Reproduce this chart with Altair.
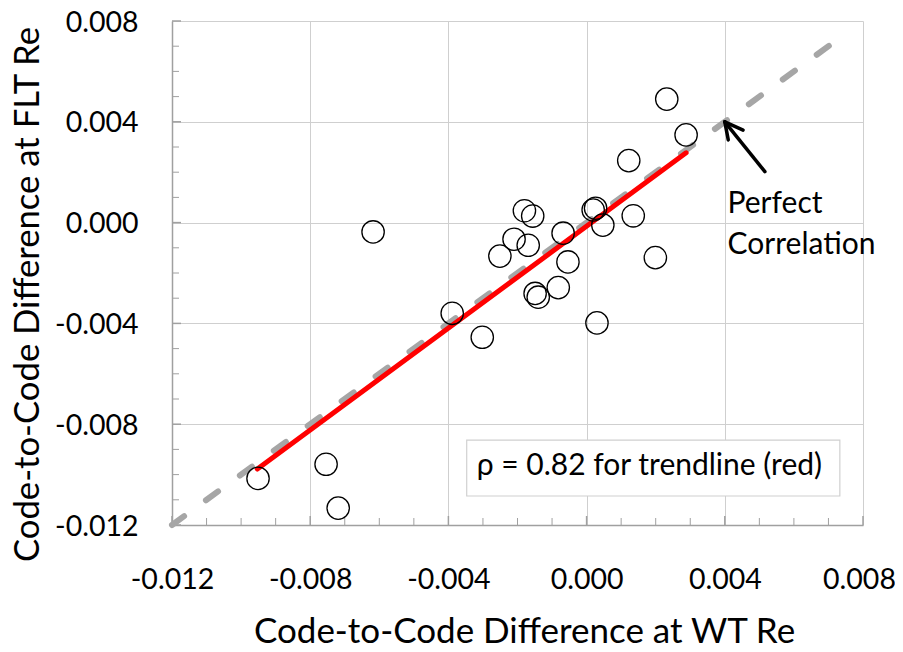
import altair as alt
import pandas as pd

# ---- data ----
wt_re = [-0.00951, -0.00754, -0.00719, -0.00618, -0.00389, -0.00302, -0.00251,
         -0.00210, -0.00180, -0.00156, -0.00169, -0.00149, -0.00140, -0.00082,
         -0.00068, -0.00054, 0.00019, 0.00026, 0.00047, 0.00030, 0.00122,
         0.00135, 0.00199, 0.00232, 0.00288]
flt_re = [-0.01015, -0.00959, -0.01133, -0.00037, -0.00360, -0.00455, -0.00133,
          -0.00066, 0.00047, 0.00026, -0.00090, -0.00281, -0.00296, -0.00258,
          -0.00042, -0.00156, 0.00050, 0.00057, -0.00010, -0.00398, 0.00246,
          0.00027, -0.00139, 0.00490, 0.00348]

trend_x = [-0.00953, 0.00288]
trend_y = [-0.00978, 0.00277]

perfect_x = [-0.012, 0.0076]
perfect_y = [-0.012, 0.0076]

major_ticks = [-0.012, -0.008, -0.004, 0.0, 0.004, 0.008]
minor_ticks = [-0.011, -0.010, -0.009, -0.007, -0.006, -0.005, -0.003, -0.002,
               -0.001, 0.001, 0.002, 0.003, 0.005, 0.006, 0.007]

# annotation arrow segments (x, y, x2, y2)
arrow_x1 = [0.00516, 0.00400, 0.00400]
arrow_y1 = [0.00202, 0.00400, 0.00400]
arrow_x2 = [0.00400, 0.00453, 0.00410]
arrow_y2 = [0.00400, 0.00367, 0.00328]

note_lines = ["Perfect", "Correlation"]
note_x = [0.00408, 0.00408]
note_y = [0.00038, -0.00124]

box_x = [-0.00347]
box_x2 = [0.00733]
box_y = [-0.00863]
box_y2 = [-0.01085]
box_text = ["ρ = 0.82 for trendline (red)"]
box_text_x = [-0.00318]
box_text_y = [-0.01002]

x_title = "Code-to-Code Difference at WT Re"
y_title = "Code-to-Code Difference at FLT Re"

FONT = "Lato"
W, H = 691, 504
GRID = "#CFCFCF"
AXIS = "#A0A0A0"

xs = alt.Scale(domain=[-0.012, 0.008], nice=False, zero=False)
ys = alt.Scale(domain=[-0.012, 0.008], nice=False, zero=False)

label_expr = ("datum.value < -0.0001 ? '-' + format(abs(datum.value), '.3f') "
              ": format(abs(datum.value), '.3f')")

x_axis = alt.Axis(values=major_ticks, grid=True, gridColor=GRID, gridWidth=1,
                  domainColor=AXIS, domainWidth=1.5, ticks=False, tickSize=0,
                  labelExpr=label_expr, labelFont=FONT, labelFontSize=28.5,
                  labelColor="black", labelBaseline="alphabetic", labelPadding=63,
                  labelFlush=False, labelOverlap=False,
                  labelOffset={"condition": {"test": "datum.value > 0.007", "value": -4},
                               "value": 0},
                  title=x_title, titleFont=FONT, titleFontSize=35,
                  titleFontWeight="normal", titleColor="black",
                  titleBaseline="alphabetic", titleX=352, titleY=117)
y_axis = alt.Axis(values=major_ticks, grid=True, gridColor=GRID, gridWidth=1,
                  domainColor=AXIS, domainWidth=1.5, ticks=False, tickSize=0,
                  labelExpr=label_expr, labelFont=FONT, labelFontSize=28.5,
                  labelColor="black", labelBaseline="alphabetic", labelOffset=10,
                  labelPadding=34, labelFlush=False, labelOverlap=False,
                  title=y_title, titleFont=FONT, titleFontSize=34.7,
                  titleFontWeight="normal", titleColor="black",
                  titleBaseline="alphabetic", titleAngle=-90, titleX=-134,
                  titleY=273)

pts = pd.DataFrame({"wt": wt_re, "flt": flt_re})

axes_layer = alt.Chart(pts).mark_point(opacity=0).encode(
    x=alt.X("wt:Q", scale=xs, axis=x_axis),
    y=alt.Y("flt:Q", scale=ys, axis=y_axis),
)

points = alt.Chart(pts).mark_point(
    shape="circle", size=500, filled=False, stroke="black", strokeWidth=1.3,
    opacity=1
).encode(
    x=alt.X("wt:Q", scale=xs),
    y=alt.Y("flt:Q", scale=ys),
)

# inside ticks
mj = pd.DataFrame({"v": major_ticks})
mn = pd.DataFrame({"v": minor_ticks})
xt_major = alt.Chart(mj).mark_rule(color=AXIS, strokeWidth=1.5).encode(
    x=alt.X("v:Q", scale=xs), y=alt.value(H), y2=alt.value(H - 9))
xt_minor = alt.Chart(mn).mark_rule(color=AXIS, strokeWidth=1).encode(
    x=alt.X("v:Q", scale=xs), y=alt.value(H), y2=alt.value(H - 7))
yt_major = alt.Chart(mj).mark_rule(color=AXIS, strokeWidth=1.5).encode(
    y=alt.Y("v:Q", scale=ys), x=alt.value(0), x2=alt.value(9))
yt_minor = alt.Chart(mn).mark_rule(color=AXIS, strokeWidth=1).encode(
    y=alt.Y("v:Q", scale=ys), x=alt.value(0), x2=alt.value(7))

perfect = alt.Chart(pd.DataFrame({"x": perfect_x, "y": perfect_y})).mark_line(
    color="#A6A6A6", strokeWidth=6, strokeDash=[15, 27], strokeCap="round"
).encode(x=alt.X("x:Q", scale=xs), y=alt.Y("y:Q", scale=ys))

trend = alt.Chart(pd.DataFrame({"x": trend_x, "y": trend_y})).mark_line(
    color="#FF0000", strokeWidth=5, strokeCap="round"
).encode(x=alt.X("x:Q", scale=xs), y=alt.Y("y:Q", scale=ys))

arrow = alt.Chart(pd.DataFrame({"x": arrow_x1, "y": arrow_y1,
                                "x2": arrow_x2, "y2": arrow_y2})).mark_rule(
    color="black", strokeWidth=3.5, strokeCap="round"
).encode(x=alt.X("x:Q", scale=xs), y=alt.Y("y:Q", scale=ys),
         x2="x2:Q", y2="y2:Q")

note = alt.Chart(pd.DataFrame({"t": note_lines, "x": note_x, "y": note_y})).mark_text(
    font=FONT, fontSize=30, color="black", align="left", baseline="alphabetic"
).encode(x=alt.X("x:Q", scale=xs), y=alt.Y("y:Q", scale=ys), text="t:N")

box = alt.Chart(pd.DataFrame({"x": box_x, "x2": box_x2, "y": box_y, "y2": box_y2})).mark_rect(
    fill="white", stroke="#D0D0D0", strokeWidth=1.2
).encode(x=alt.X("x:Q", scale=xs), x2="x2:Q", y=alt.Y("y:Q", scale=ys), y2="y2:Q")

box_label = alt.Chart(pd.DataFrame({"t": box_text, "x": box_text_x, "y": box_text_y})).mark_text(
    font=FONT, fontSize=30, color="black", align="left", baseline="alphabetic"
).encode(x=alt.X("x:Q", scale=xs), y=alt.Y("y:Q", scale=ys), text="t:N")

chart = alt.layer(
    axes_layer, xt_major, xt_minor, yt_major, yt_minor, perfect, trend, points,
    arrow, note, box, box_label
).properties(
    width=W, height=H,
    autosize=alt.AutoSizeParams(type="none"),
    padding={"left": 164, "top": 13, "right": 32, "bottom": 125},
    background="white",
).configure_view(strokeWidth=0)

chart.save("out.html", embed_options={"renderer": "svg", "actions": False})
